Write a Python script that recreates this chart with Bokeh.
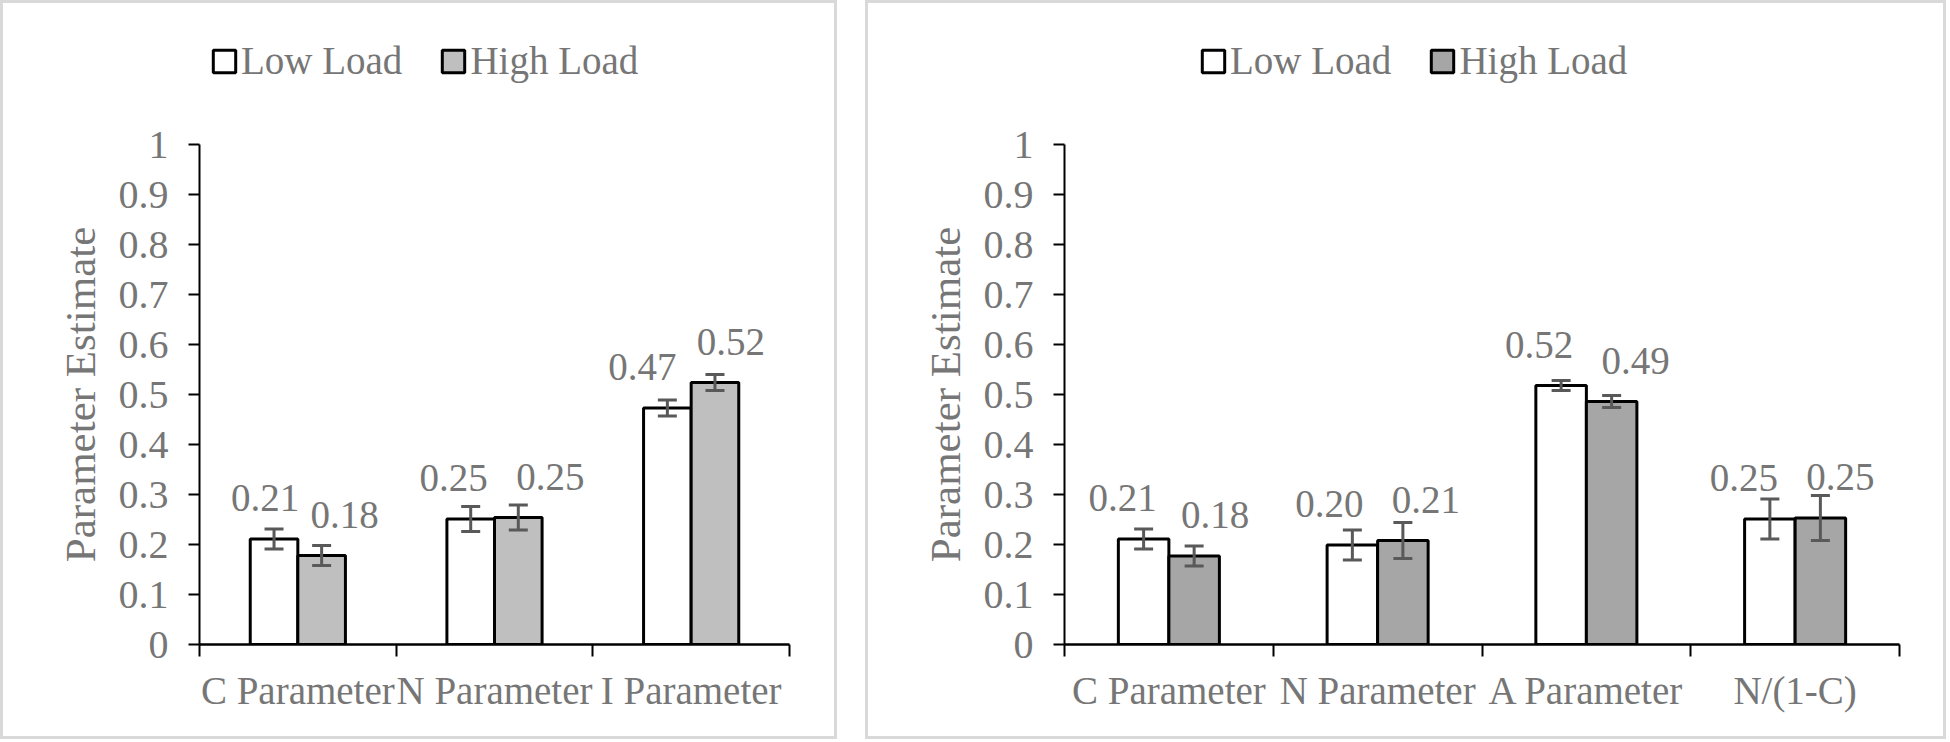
from bokeh.plotting import figure
from bokeh.layouts import row, column
from bokeh.models import (Range1d, FixedTicker, CustomJSTickFormatter, ColumnDataSource,
                          Legend, LegendItem)
from bokeh.core.properties import value
from bokeh.embed import file_html
from bokeh.resources import INLINE

# ---------------- data ----------------
series_names = ["Low Load", "High Load"]
y_ticks = [0, 0.1, 0.2, 0.3, 0.4, 0.5, 0.6, 0.7, 0.8, 0.9, 1.0]

left_categories = ["C Parameter", "N Parameter", "I Parameter"]
left_low = [0.211, 0.251, 0.473]
left_high = [0.178, 0.254, 0.524]
left_low_err = [0.020, 0.025, 0.016]
left_high_err = [0.020, 0.025, 0.016]

right_categories = ["C Parameter", "N Parameter", "A Parameter", "N/(1-C)"]
right_low = [0.211, 0.199, 0.518, 0.251]
right_high = [0.177, 0.208, 0.486, 0.253]
right_low_err = [0.020, 0.030, 0.010, 0.040]
right_high_err = [0.020, 0.036, 0.012, 0.045]

# ---------------- style ----------------
FONT = "Liberation Serif"
TEXT = "#767676"
ERR = "#595959"
BORDER = "#d9d9d9"
BAR_W = 0.242
LEG_H = 100
MAIN_H = 633
# horizontal nudges (px) of the value labels, as placed in the original
LEFT_DX_LOW = [-9, -17, -25]
LEFT_DX_HIGH = [23, 32, 16]
RIGHT_DX_LOW = [-21, -23, -22, -26]
RIGHT_DX_HIGH = [21, 23, 24, 20]


def make_sources(n, low, high, low_err, high_err, dx_low, dx_high):
    centers = [i + 0.5 for i in range(n)]
    src_low = ColumnDataSource(dict(x=[c - BAR_W / 2 for c in centers], top=low,
                                    upper=[v + e for v, e in zip(low, low_err)],
                                    lower=[v - e for v, e in zip(low, low_err)],
                                    label=[f"{v:.2f}" for v in low], dx=dx_low))
    src_high = ColumnDataSource(dict(x=[c + BAR_W / 2 for c in centers], top=high,
                                     upper=[v + e for v, e in zip(high, high_err)],
                                     lower=[v - e for v, e in zip(high, high_err)],
                                     label=[f"{v:.2f}" for v in high], dx=dx_high))
    return centers, src_low, src_high


def legend_fig(width, n, src_low, src_high, high_color, legend_x):
    # strip above the chart that only carries the legend keys
    lf = figure(width=width, height=LEG_H, output_backend="svg", toolbar_location=None,
                x_range=Range1d(0, n), y_range=Range1d(0, 1),
                x_axis_location=None, y_axis_location=None,
                min_border_left=0, min_border_right=0, min_border_top=0, min_border_bottom=0)
    lf.outline_line_color = None
    lf.xgrid.visible = False
    lf.ygrid.visible = False
    r_low = lf.vbar(x="x", top="top", bottom=0, width=BAR_W, source=src_low,
                    fill_color="white", line_color="black", line_width=3, visible=False)
    r_high = lf.vbar(x="x", top="top", bottom=0, width=BAR_W, source=src_high,
                     fill_color=high_color, line_color="black", line_width=3, visible=False)
    legend = Legend(items=[LegendItem(label=series_names[0], renderers=[r_low]),
                           LegendItem(label=series_names[1], renderers=[r_high])],
                    orientation="horizontal", location=(legend_x, 20),
                    padding=0, margin=0, spacing=37, label_standoff=3,
                    glyph_width=28, glyph_height=28, click_policy="none",
                    border_line_alpha=0, background_fill_alpha=0,
                    label_text_font=FONT, label_text_font_size="39px",
                    label_text_color=TEXT)
    lf.add_layout(legend, "center")
    return lf


def panel(categories, centers, src_low, src_high, high_color, width, mb_left, mb_right):
    n = len(categories)
    p = figure(width=width, height=MAIN_H, output_backend="svg", toolbar_location=None,
               x_range=Range1d(0, n), y_range=Range1d(0, 1),
               min_border_left=mb_left, min_border_right=mb_right,
               min_border_top=41, min_border_bottom=92)
    p.outline_line_color = None
    p.xgrid.visible = False
    p.ygrid.visible = False

    p.vbar(x="x", top="top", bottom=0, width=BAR_W, source=src_low,
           fill_color="white", line_color="black", line_width=3)
    p.vbar(x="x", top="top", bottom=0, width=BAR_W, source=src_high,
           fill_color=high_color, line_color="black", line_width=3)

    # error bars
    for src in (src_low, src_high):
        p.segment(x0="x", y0="lower", x1="x", y1="upper", source=src,
                  line_color=ERR, line_width=3)
        p.scatter(x="x", y="upper", source=src, marker="dash", size=19,
                  line_color=ERR, line_width=3)
        p.scatter(x="x", y="lower", source=src, marker="dash", size=19,
                  line_color=ERR, line_width=3)

    for src in (src_low, src_high):
        p.text(x="x", y="top", text="label", source=src, x_offset="dx", y_offset=-41,
               text_align="center", text_baseline="alphabetic",
               text_font=value(FONT), text_font_size="39px", text_color=TEXT)

    # y axis
    ya = p.yaxis[0]
    ya.ticker = FixedTicker(ticks=y_ticks, minor_ticks=[])
    ya.formatter = CustomJSTickFormatter(code="return String(Math.round(tick*10)/10)")
    ya.axis_line_color = "black"
    ya.axis_line_width = 2
    ya.major_tick_line_color = "black"
    ya.major_tick_line_width = 2
    ya.major_tick_out = 11
    ya.major_tick_in = 0
    ya.major_label_standoff = 20
    ya.major_label_text_font = FONT
    ya.major_label_text_font_size = "40px"
    ya.major_label_text_color = TEXT
    ya.axis_label = "Parameter Estimate"
    ya.axis_label_text_font = FONT
    ya.axis_label_text_font_size = "43px"
    ya.axis_label_text_font_style = "normal"
    ya.axis_label_text_color = TEXT
    ya.axis_label_standoff = 12

    # x axis: labels at category centres, ticks at category boundaries
    xa = p.xaxis[0]
    xa.ticker = FixedTicker(ticks=centers, minor_ticks=list(range(n + 1)))
    xa.formatter = CustomJSTickFormatter(args=dict(labels=categories),
                                         code="return labels[Math.floor(tick)]")
    xa.axis_line_color = "black"
    xa.axis_line_width = 2.5
    xa.major_tick_line_color = None
    xa.major_tick_out = 0
    xa.major_tick_in = 0
    xa.minor_tick_line_color = "black"
    xa.minor_tick_line_width = 2
    xa.minor_tick_out = 12
    xa.minor_tick_in = 0
    xa.major_label_standoff = 12
    xa.major_label_text_font = FONT
    xa.major_label_text_font_size = "39px"
    xa.major_label_text_color = TEXT
    return p


c1, sl1, sh1 = make_sources(len(left_categories), left_low, left_high,
                            left_low_err, left_high_err, LEFT_DX_LOW, LEFT_DX_HIGH)
c2, sl2, sh2 = make_sources(len(right_categories), right_low, right_high,
                            right_low_err, right_high_err, RIGHT_DX_LOW, RIGHT_DX_HIGH)

p1 = panel(left_categories, c1, sl1, sh1, "#bfbfbf", 831, 196, 45)
p2 = panel(right_categories, c2, sl2, sh2, "#a6a6a6", 1075, 196, 44)
l1 = legend_fig(831, len(left_categories), sl1, sh1, "#bfbfbf", 11)
l2 = legend_fig(1075, len(right_categories), sl2, sh2, "#a6a6a6", 135)

box = {"border": f"3px solid {BORDER}"}
layout = row(column(l1, p1, styles=box, spacing=0),
             column(l2, p2, styles=box, spacing=0), spacing=28)
open("out.html", "w").write(file_html(layout, INLINE))
